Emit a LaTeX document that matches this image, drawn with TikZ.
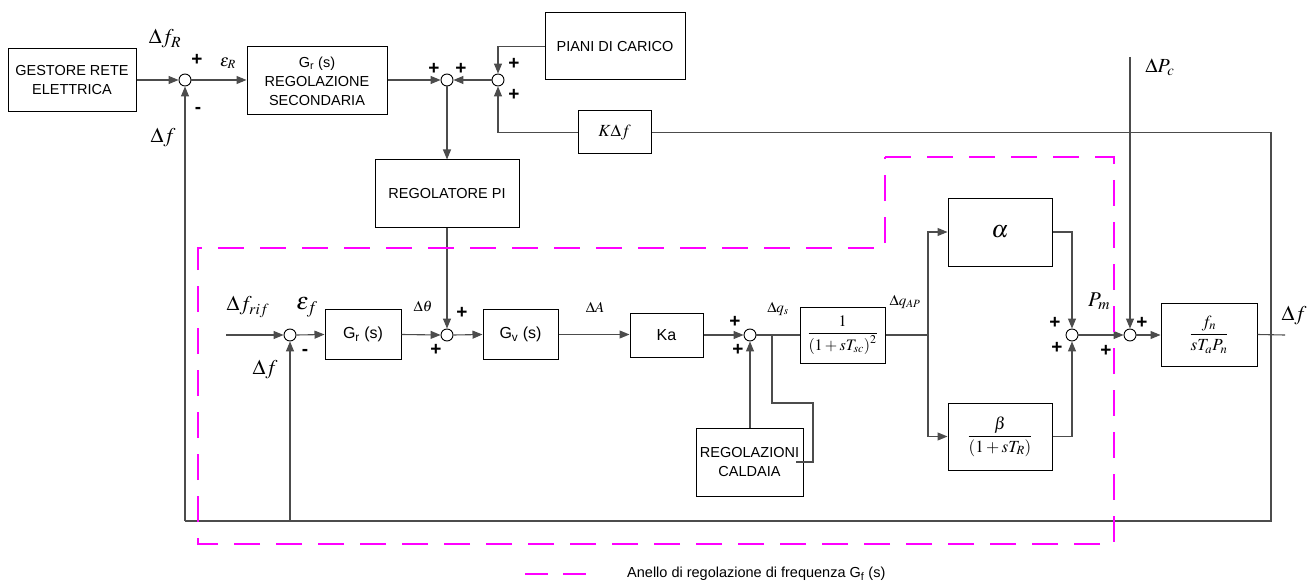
\documentclass[tikz,border=0pt]{standalone}
\usepackage{mathptmx}
\usepackage{fontspec}
\setmainfont{Liberation Sans}
\usetikzlibrary{arrows.meta}
\definecolor{loopmag}{RGB}{255,0,255}
\begin{document}
\begin{tikzpicture}[x=1pt,y=-1pt,
 box/.style={draw=black,line width=1pt,inner sep=0pt,font=\fontsize{14.5}{19}\selectfont,align=center},
 sumj/.style={draw=black,circle,line width=0.9pt,minimum size=12pt,inner sep=0pt},
 wire/.style={draw=black!70,line width=1.1pt},
 arr/.style={wire,-{Triangle[length=10pt,width=8pt]}},
 sgn/.style={inner sep=0pt,font=\bfseries\fontsize{19}{20}\selectfont},
 big/.style={inner sep=0pt,font=\fontsize{21}{24}\selectfont},
 mid/.style={inner sep=0pt,font=\fontsize{17}{20}\selectfont},
 small/.style={inner sep=0pt,font=\fontsize{15}{18}\selectfont},
 loopline/.style={draw=loopmag,line width=2.2pt,dash pattern=on 26pt off 16pt}
]
\useasboundingbox (0,0) rectangle (1315,583);

% top row
\node[box,minimum width=128,minimum height=63] (gestore) at (72,80) {GESTORE RETE\\ELETTRICA};
\node[sumj] (s1) at (185,80) {};
\node[box,minimum width=140,minimum height=68] (gr1) at (317,81) {G\textsubscript{r} (s)\\REGOLAZIONE\\SECONDARIA};
\node[sumj] (s2) at (447,80) {};
\node[sumj] (s3) at (498,80) {};
\node[box,minimum width=140,minimum height=67] (piani) at (615,46.5) {PIANI DI CARICO};
\node[box,minimum width=73,minimum height=43] (kdf) at (614.5,132.5) {\fontsize{17}{20}\selectfont$K\Delta f$};
\node[box,minimum width=144,minimum height=67] (pi) at (447,193.5) {REGOLATORE PI};

% middle row
\coordinate (in) at (226,335);
\node[sumj] (s4) at (290,335) {};
\node[box,minimum width=76,minimum height=50] (gr2) at (363,334.5) {\fontsize{16}{19}\selectfont G\textsubscript{r} (s)};
\node[sumj] (s5) at (447,335) {};
\node[box,minimum width=75,minimum height=50] (gv) at (520.5,334.5) {\fontsize{16}{19}\selectfont G\textsubscript{v} (s)};
\node[box,minimum width=73,minimum height=44] (ka) at (666.5,335) {\fontsize{16}{19}\selectfont Ka};
\node[sumj] (s6) at (750,335) {};
\node[box,minimum width=85,minimum height=56] (tsc) at (842.5,335) {\fontsize{16}{19}\selectfont$\displaystyle\frac{1}{\left(1+sT_{sc}\right)^{2}}$};
\node[box,minimum width=107,minimum height=68] (calda) at (749.5,462) {REGOLAZIONI\\CALDAIA};
\coordinate (bq) at (772,335);
\coordinate (bq1) at (772,403);
\coordinate (bq2) at (813,403);
\coordinate (bq3) at (813,462);
\coordinate (bq4) at (796,462);
\coordinate (bap) at (928,335);
\node[box,minimum width=104,minimum height=68] (alpha) at (1000,232) {\fontsize{24}{26}\selectfont$\alpha$};
\node[box,minimum width=104,minimum height=67] (beta) at (1000,436.5) {\fontsize{17}{20}\selectfont$\displaystyle\frac{\beta}{\left(1+sT_{R}\right)}$};
\node[sumj] (s7) at (1072,335) {};
\node[sumj] (s8) at (1130,335) {};
\coordinate (pc) at (1130,57);
\node[box,minimum width=96,minimum height=63] (fn) at (1209,334.5) {\fontsize{17}{20}\selectfont$\displaystyle\frac{f_{n}}{sT_{a}P_{n}}$};
\coordinate (out) at (1285,335);
\coordinate (rc) at (1271,132.5);
\coordinate (rb) at (1271,521);
\coordinate (bl) at (185,521);
\coordinate (bl2) at (290,521);

% connectors top
\draw[arr] (gestore.east) -- (s1.west);
\draw[arr] (s1.east) -- (s1.east -| gr1.west);
\draw[arr] (s2.west -| gr1.east) -- (s2.west);
\draw[arr] (s3.west) -- (s2.east);
\draw[arr] (piani.west) -| (s3.north);
\draw[arr] (kdf.west) -| (s3.south);
\draw[wire] (kdf.east) -- (rc) -- (rb) -- (bl);
\draw[arr] (bl) -- (s1.south);
\draw[arr] (bl2) -- (s4.south);
\draw[arr] (s2.south) -- (pi.north);
\draw[arr] (pi.south) -- (s5.north);

% connectors middle
\draw[arr] (in) -- (s4.west);
\draw[arr] (s4.east) -- (gr2.west);
\draw[arr] (gr2.east) -- (s5.west);
\draw[arr] (s5.east) -- (gv.west);
\draw[arr] (gv.east) -- (gv.east -| ka.west);
\draw[arr] (ka.east) -- (s6.west);
\draw[wire] (s6.east) -- (tsc.west);
\draw[wire] (bq) -- (bq1) -- (bq2) -- (bq3) -- (bq4);
\draw[arr] (calda.north -| s6) -- (s6.south);
\draw[wire] (tsc.east) -- (bap);
\draw[arr] (bap) |- (alpha.west);
\draw[arr] (bap) |- (beta.west);
\draw[arr] (alpha.east) -| (s7.north);
\draw[arr] (beta.east) -| (s7.south);
\draw[arr] (s7.east) -- (s8.west);
\draw[arr] (pc) -- (s8.north);
\draw[arr] (s8.east) -- (s8.east -| fn.west);
\draw[wire] (fn.east) -- (out);

% labels
\node[big] (lfr) at (165,39) {$\Delta f_{R}$};
\node[sgn] (p1) at (197,60) {+};
\node[mid] (ler) at (228,63) {$\varepsilon_{R}$};
\node[sgn] (m1) at (198,110) {-};
\node[big] (ldf1) at (163,138) {$\Delta f$};
\node[sgn] (p2) at (434,69) {+};
\node[sgn] (p3) at (461,69) {+};
\node[sgn] (p4) at (514,64) {+};
\node[sgn] (p5) at (514,95) {+};
\node[big] (lpc) at (1160,67) {\fontsize{20}{22}\selectfont$\Delta P_{c}$};
\node[big] (lrif) at (248,307) {$\Delta f_{rif}$};
\node[big] (lef) at (307,307) {\fontsize{24}{26}\selectfont$\varepsilon_{f}$};
\node[sgn] (m2) at (305,352) {-};
\node[big] (ldf2) at (265,370) {$\Delta f$};
\node[small] (lth) at (423,306) {$\Delta\theta$};
\node[sgn] (p6) at (462,313) {+};
\node[sgn] (p7) at (436,350) {+};
\node[small] (lA) at (595,307) {$\Delta A$};
\node[sgn] (p8) at (735,322) {+};
\node[sgn] (p9) at (738,350) {+};
\node[small] (lqs) at (778,309) {$\Delta q_{s}$};
\node[small] (lqap) at (905,302) {$\Delta q_{AP}$};
\node[sgn] (p10) at (1055,323) {+};
\node[sgn] (p11) at (1057,348) {+};
\node[big] (lpm) at (1099,301) {$P_{m}$};
\node[sgn] (p12) at (1106,351) {+};
\node[sgn] (p13) at (1142,323) {+};
\node[big] (ldf3) at (1294,316) {$\Delta f$};

% frequency loop
\draw[loopline] (885,157) -- (1114,157) -- (1114,544) -- (198,544) -- (198,248) -- (885,248) -- cycle;

% legend
\coordinate (lg1) at (525,574);
\coordinate (lg2) at (587,574);
\draw[loopmag,line width=2.2pt,dash pattern=on 23pt off 15pt] (lg1) -- (lg2);
\node[anchor=west,inner sep=0pt,font=\fontsize{14.5}{18}\selectfont] (legend) at (627,574) {Anello di regolazione di frequenza G\textsubscript{f} (s)};
\end{tikzpicture}
\end{document}
